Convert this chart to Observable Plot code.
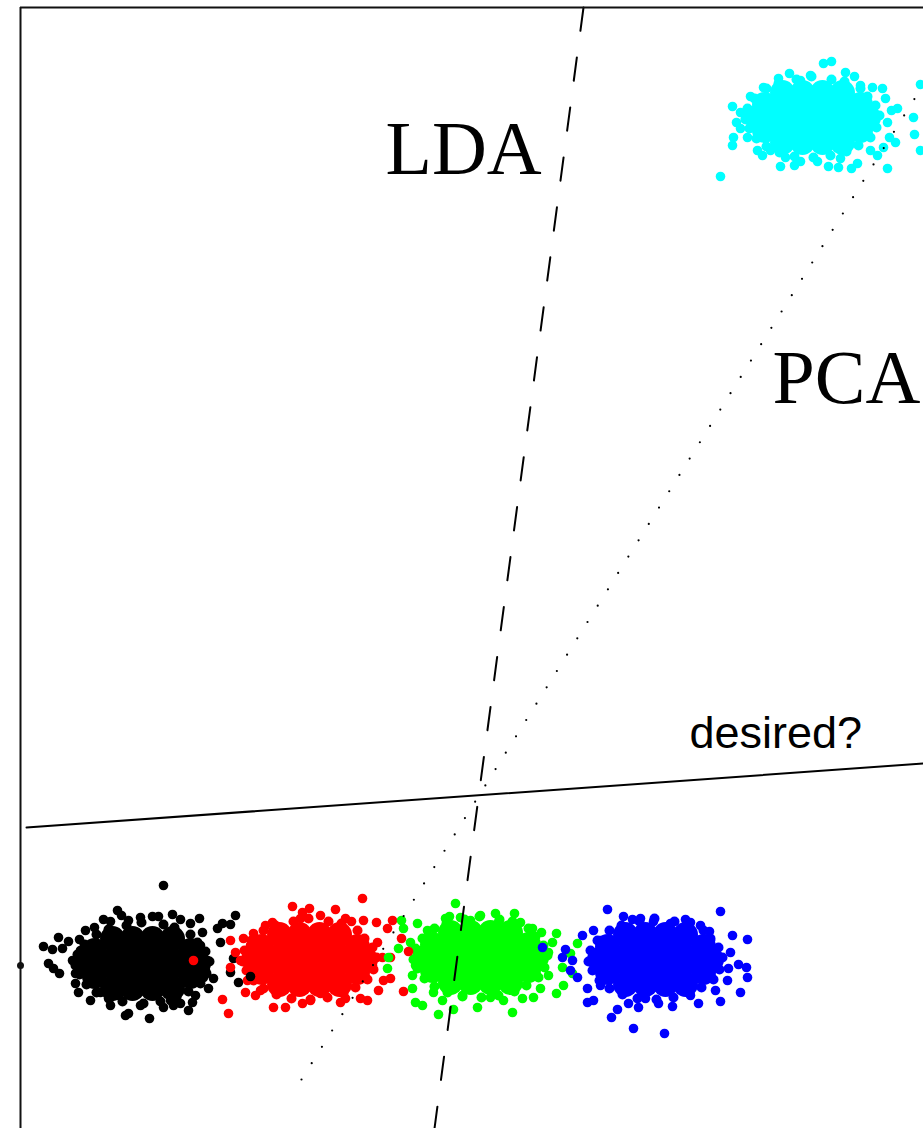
<!DOCTYPE html>
<html><head><meta charset="utf-8">
<script src="https://cdn.jsdelivr.net/npm/d3@7"></script>
<script src="https://cdn.jsdelivr.net/npm/@observablehq/plot@0.6"></script>
<style>html,body{margin:0;padding:0;background:#fff;overflow:hidden}</style>
</head><body><div id="chart"></div>
<script>
// Data coordinates (arbitrary units)
const blackCore = [[11.2,19.0],[13.2,19.0],[15.2,19.0],[17.2,19.0],[9.4,17.8],[11.8,17.8],[14.2,17.8],[16.6,17.8],[19.0,17.8],[8.6,16.5],[10.8,16.5],[13.1,16.5],[15.3,16.5],[17.6,16.5],[19.8,16.5],[9.4,15.2],[11.8,15.2],[14.2,15.2],[16.6,15.2],[19.0,15.2],[11.2,14.0],[13.2,14.0],[15.2,14.0],[17.2,14.0]];
const blackEdge = [[20.9,16.7],[20.5,17.7],[19.7,18.6],[19.0,19.4],[17.4,20.1],[16.3,20.4],[14.1,20.6],[12.6,20.3],[10.8,19.9],[9.6,19.4],[8.4,18.4],[7.7,17.4],[7.5,16.3],[7.9,15.4],[8.6,14.4],[9.6,13.6],[10.9,13.0],[12.2,12.7],[14.3,12.5],[16.0,12.7],[17.6,13.1],[18.8,13.7],[20.0,14.5],[20.6,15.5]];
const blackPts = [[16.3,24.3],[11.7,21.8],[12.1,21.3],[10.3,20.9],[11.0,20.7],[15.2,21.2],[15.8,21.2],[17.2,21.4],[18.0,20.9],[19.9,21.0],[19.0,20.5],[23.5,21.3],[23.0,20.4],[22.2,20.5],[21.7,20.0],[20.2,19.6],[5.8,19.1],[4.3,18.2],[5.2,17.9],[6.2,18.0],[6.8,18.7],[7.9,18.9],[9.4,20.1],[4.8,16.5],[5.3,16.0],[5.9,15.5],[7.5,14.5],[7.8,13.6],[10.0,13.6],[10.8,13.0],[11.8,13.3],[12.5,11.3],[12.8,11.5],[14.9,11.0],[16.3,12.1],[17.3,12.3],[18.0,12.5],[18.8,11.8],[19.2,12.6],[20.8,14.0],[21.3,15.0],[22.0,18.6],[23.3,17.0],[23.0,15.6],[23.8,14.6],[20.3,15.1],[20.7,16.8],[8.0,17.8],[7.2,16.8],[7.5,15.5],[8.5,19.8],[9.0,12.8],[14.0,12.3],[19.5,13.3],[20.0,18.3],[20.5,15.8],[14.0,21.1],[12.8,20.8],[17.0,12.8],[11.0,12.3]];

const redCore = [[27.9,19.4],[29.9,19.4],[31.9,19.4],[33.9,19.4],[26.1,18.2],[28.5,18.2],[30.9,18.2],[33.3,18.2],[35.7,18.2],[25.3,16.9],[27.5,16.9],[29.8,16.9],[32.0,16.9],[34.3,16.9],[36.5,16.9],[26.1,15.6],[28.5,15.6],[30.9,15.6],[33.3,15.6],[35.7,15.6],[27.9,14.4],[29.9,14.4],[31.9,14.4],[33.9,14.4]];
const redEdge = [[37.6,17.1],[37.2,18.1],[36.4,19.0],[35.7,19.8],[34.1,20.5],[32.8,20.7],[30.8,21.0],[29.3,20.7],[27.5,20.3],[26.3,19.8],[25.1,18.8],[24.4,17.8],[24.2,16.7],[24.6,15.8],[25.3,14.8],[26.3,14.0],[27.6,13.4],[29.1,13.0],[31.0,12.9],[32.7,13.1],[34.3,13.5],[35.5,14.1],[36.7,14.9],[37.3,15.9]];
const redPts = [[29.2,22.2],[30.2,21.6],[30.9,22.0],[36.2,23.0],[33.5,21.9],[27.2,20.6],[25.3,19.5],[24.3,19.0],[23.0,18.8],[23.5,17.6],[23.0,16.1],[24.7,14.8],[24.5,13.6],[22.2,12.9],[22.8,11.5],[25.5,13.3],[27.3,12.1],[28.5,12.1],[30.2,12.5],[32.0,13.5],[34.5,13.0],[36.0,13.0],[36.7,12.8],[37.8,13.8],[38.3,14.8],[37.7,18.6],[37.6,20.6],[38.7,20.0],[39.2,20.8],[36.3,20.8],[35.1,20.7],[38.2,17.1],[39.0,17.1],[39.0,15.0],[40.3,13.7],[26.5,20.3],[32.0,21.3],[34.5,21.0],[30.0,21.0],[24.0,16.8],[25.0,18.3],[37.2,16.3],[26.0,13.8],[34.0,12.6],[31.0,12.8]];

const greenCore = [[45.0,19.6],[47.0,19.6],[49.0,19.6],[51.0,19.6],[43.2,18.4],[45.6,18.4],[48.0,18.4],[50.4,18.4],[52.8,18.4],[42.4,17.1],[44.6,17.1],[46.9,17.1],[49.1,17.1],[51.4,17.1],[53.6,17.1],[43.2,15.8],[45.6,15.8],[48.0,15.8],[50.4,15.8],[52.8,15.8],[45.0,14.6],[47.0,14.6],[49.0,14.6],[51.0,14.6]];
const greenEdge = [[54.7,17.3],[54.3,18.3],[53.5,19.2],[52.8,20.0],[51.2,20.7],[49.9,20.9],[47.9,21.2],[46.4,20.9],[44.6,20.5],[43.4,20.0],[42.2,19.0],[41.5,18.0],[41.3,16.9],[41.7,16.0],[42.4,15.0],[43.4,14.2],[44.7,13.6],[46.2,13.2],[48.1,13.1],[49.8,13.3],[51.4,13.7],[52.6,14.3],[53.8,15.1],[54.4,16.1]];
const greenPts = [[45.5,22.5],[44.5,21.0],[44.9,21.2],[46.0,21.1],[48.0,21.3],[49.5,21.5],[51.4,21.5],[49.8,20.6],[41.7,20.5],[42.7,19.8],[40.3,20.0],[40.1,20.8],[53.2,20.0],[54.1,19.6],[55.6,19.5],[55.2,18.6],[57.7,18.5],[57.0,17.5],[56.2,16.1],[56.3,14.3],[55.6,13.5],[54.0,14.0],[53.3,13.1],[52.2,13.0],[51.2,11.6],[50.3,12.8],[47.7,12.1],[45.3,11.9],[43.8,11.4],[44.2,12.8],[42.2,12.3],[41.5,12.6],[41.2,14.0],[38.7,16.0],[38.8,17.1],[39.8,18.0],[41.0,18.6],[43.3,13.6],[57.2,15.5],[47.0,20.8],[52.0,20.6],[41.5,16.3],[41.2,15.3],[54.8,15.3],[49.0,13.1],[46.2,13.3],[54.8,17.6]];

const blueCore = [[62.5,19.4],[64.5,19.4],[66.5,19.4],[68.5,19.4],[60.7,18.2],[63.1,18.2],[65.5,18.2],[67.9,18.2],[70.3,18.2],[59.9,16.9],[62.1,16.9],[64.4,16.9],[66.6,16.9],[68.9,16.9],[71.1,16.9],[60.7,15.6],[63.1,15.6],[65.5,15.6],[67.9,15.6],[70.3,15.6],[62.5,14.4],[64.5,14.4],[66.5,14.4],[68.5,14.4]];
const blueEdge = [[72.2,17.1],[71.8,18.1],[71.0,19.0],[70.3,19.8],[68.7,20.5],[67.4,20.7],[65.4,21.0],[63.9,20.7],[62.1,20.3],[60.9,19.8],[59.7,18.8],[59.0,17.8],[58.8,16.7],[59.2,15.8],[59.9,14.8],[60.9,14.0],[62.2,13.4],[63.7,13.0],[65.6,12.9],[67.3,13.1],[68.9,13.5],[70.1,14.1],[71.3,14.9],[71.9,15.9]];
const bluePts = [[60.7,21.9],[72.0,21.7],[62.3,21.2],[63.2,20.9],[65.3,20.7],[67.0,20.5],[68.5,20.9],[69.0,20.6],[58.2,19.3],[59.3,19.8],[70.9,19.7],[73.2,19.3],[74.7,18.9],[73.0,17.6],[72.0,17.1],[73.8,16.4],[74.6,16.1],[74.7,15.1],[72.8,16.0],[72.7,14.8],[74.0,13.6],[72.0,12.7],[69.8,12.5],[67.2,12.2],[65.8,12.5],[63.8,12.1],[62.8,12.5],[61.7,11.9],[61.1,11.1],[63.3,10.0],[66.4,9.5],[58.7,12.6],[59.3,12.8],[58.7,14.0],[57.7,15.1],[57.0,15.8],[57.2,16.8],[56.5,17.9],[56.2,17.1],[60.0,18.8],[71.0,18.8],[71.5,13.8],[69.0,13.3],[64.5,13.0],[60.0,14.3],[64.0,21.0],[70.0,20.3]];

const cyanCore = [[78.2,103.6],[80.2,103.6],[82.2,103.6],[84.2,103.6],[76.4,102.4],[78.8,102.4],[81.2,102.4],[83.6,102.4],[86.0,102.4],[75.6,101.1],[77.8,101.1],[80.1,101.1],[82.3,101.1],[84.6,101.1],[86.8,101.1],[76.4,99.8],[78.8,99.8],[81.2,99.8],[83.6,99.8],[86.0,99.8],[78.2,98.6],[80.2,98.6],[82.2,98.6],[84.2,98.6]];
const cyanEdge = [[87.9,101.3],[87.5,102.3],[86.7,103.2],[86.0,104.0],[84.4,104.7],[83.1,104.9],[81.1,105.2],[79.6,104.9],[77.8,104.5],[76.6,104.0],[75.4,103.0],[74.7,102.0],[74.5,100.9],[74.9,100.0],[75.6,99.0],[76.6,98.2],[77.9,97.6],[79.4,97.2],[81.3,97.1],[83.0,97.3],[84.6,97.7],[85.8,98.3],[87.0,99.1],[87.6,100.1]];
const cyanPts = [[72.0,95.2],[73.2,102.2],[73.6,100.6],[73.3,99.1],[73.2,98.3],[74.0,101.6],[75.0,103.2],[76.3,104.1],[77.8,105.0],[78.9,105.5],[81.0,105.3],[82.3,106.5],[83.1,106.7],[84.5,105.6],[85.4,105.2],[87.2,104.1],[88.2,104.0],[88.5,103.0],[89.1,101.8],[89.7,102.0],[88.7,100.6],[88.9,99.1],[89.5,98.6],[88.3,98.1],[87.7,97.3],[88.7,96.0],[85.7,96.5],[85.1,96.0],[83.8,96.1],[82.8,96.2],[81.7,96.7],[80.0,96.7],[79.4,96.3],[78.0,96.2],[78.5,97.1],[76.2,97.3],[75.7,97.8],[74.7,99.1],[74.0,100.0],[92.0,104.4],[91.3,101.1],[91.4,99.4],[92.0,97.8],[80.0,104.8],[86.0,104.3],[74.5,101.0],[87.0,97.8],[84.0,97.0],[77.0,97.8]];

// points of one class drawn over another class
const strays = [{x:25.0,y:15.2,c:"black"},{x:19.3,y:16.8,c:"red"},{x:40.8,y:17.7,c:"red"},{x:40.1,y:19.0,c:"red"},{x:54.2,y:18.1,c:"blue"}];

const ldaLine = [[58.3,112.1],[43.4,0]];
const pcaLine = [[30.1,4.9],[92.3,104.4]];
const desiredLine = [[2.6,30.1],[92.3,36.5]];
const axisTick = [[2.0,16.3]];

const serifLabels = [{text:"LDA",x:38.5,y:95.5},{text:"PCA",x:77.2,y:72.6}];
const sansLabels = [{text:"desired?",x:68.9,y:38.1}];

const colors = {black:"#000000", red:"#ff0000", green:"#00ff00", blue:"#0000ff", cyan:"#00ffff"};
const clusters = [["black",blackCore,blackEdge,blackPts],["red",redCore,redEdge,redPts],["green",greenCore,greenEdge,greenPts],["blue",blueCore,blueEdge,bluePts],["cyan",cyanCore,cyanEdge,cyanPts]];

const marks = [];
for (const [c, core, edge, pts] of clusters) {
  marks.push(Plot.dot(core, {x:d=>d[0], y:d=>d[1], r:12.5, fill:colors[c], stroke:"none"}));
  marks.push(Plot.dot(edge, {x:d=>d[0], y:d=>d[1], r:5, fill:colors[c], stroke:"none"}));
  marks.push(Plot.dot(pts, {x:d=>d[0], y:d=>d[1], r:4.8, fill:colors[c], stroke:"none"}));
}
marks.push(Plot.dot(strays, {x:"x", y:"y", r:4.8, fill:d=>colors[d.c], stroke:"none"}));
marks.push(Plot.line(ldaLine, {x:d=>d[0], y:d=>d[1], stroke:"#000", strokeWidth:2, strokeDasharray:"23.5,26.9"}));
marks.push(Plot.line(pcaLine, {x:d=>d[0], y:d=>d[1], stroke:"#000", strokeWidth:2.2, strokeLinecap:"round", strokeDasharray:"0,19.27"}));
marks.push(Plot.line(desiredLine, {x:d=>d[0], y:d=>d[1], stroke:"#000", strokeWidth:2}));
marks.push(Plot.ruleX([2.0], {stroke:"#111", strokeWidth:2}));
marks.push(Plot.ruleY([112.1], {stroke:"#111", strokeWidth:2}));
marks.push(Plot.dot(axisTick, {x:d=>d[0], y:d=>d[1], r:3.5, fill:"#111", stroke:"none"}));
marks.push(Plot.text(serifLabels, {x:"x", y:"y", text:"text", textAnchor:"start", lineAnchor:"bottom", fontSize:76, fontFamily:"Liberation Serif", fill:"#000"}));
marks.push(Plot.text(sansLabels, {x:"x", y:"y", text:"text", textAnchor:"start", lineAnchor:"bottom", fontSize:45, fontFamily:"Liberation Sans", fill:"#000"}));

const chart = Plot.plot({
  width: 923, height: 1128,
  marginLeft: 20, marginRight: 0, marginTop: 7, marginBottom: 0,
  x: {domain:[2, 92.3], axis:null},
  y: {domain:[0, 112.1], axis:null},
  style: {background:"#fff"},
  marks
});
document.getElementById("chart").appendChild(chart);
</script>
</body></html>
